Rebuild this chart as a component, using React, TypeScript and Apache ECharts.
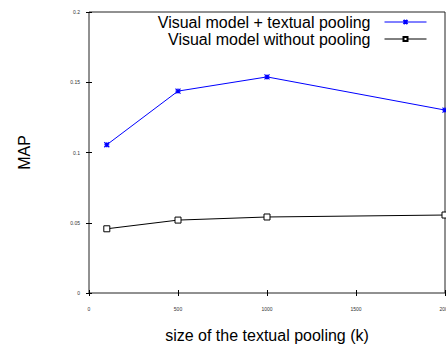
import React, { useEffect, useRef } from "react";
import * as echarts from "echarts";

const xValues = [100, 500, 1000, 2000];
const pooledValues = [0.1055, 0.1437, 0.1538, 0.1302];
const noPoolValues = [0.0457, 0.0519, 0.0541, 0.0555];
const seriesNames = ["Visual model + textual pooling", "Visual model without pooling"];
const xTitle = "size of the textual pooling (k)";
const yTitle = "MAP";

const STAR = "path://M0,0L10,10M10,0L0,10M5,0L5,10M0,5L10,5";

export default function App() {
  const ref = useRef<HTMLDivElement>(null);
  useEffect(() => {
    if (!ref.current) return;
    const chart = echarts.init(ref.current, null, { renderer: "svg" });
    const font = "Liberation Sans, Arial, sans-serif";
    const tick = () => ({ show: true, inside: true, length: 3, lineStyle: { color: "#000" } });
    chart.setOption({
      animation: false,
      backgroundColor: "#fff",
      grid: {
        left: 89,
        top: 12,
        right: 1,
        bottom: 52,
        containLabel: false,
        outerBoundsMode: "none",
        show: true,
        borderColor: "#222",
        borderWidth: 1,
        backgroundColor: "transparent",
      },
      legend: {
        orient: "vertical",
        right: 19,
        top: 14,
        align: "right",
        itemWidth: 42,
        itemHeight: 5,
        itemGap: 1,
        padding: 0,
        lineStyle: { width: 1 },
        textStyle: { fontFamily: font, fontSize: 16, color: "#000", padding: [0, 9, 0, 0] },
        data: seriesNames,
      },
      xAxis: [
        {
          type: "value",
          min: 0,
          max: 2000,
          interval: 500,
          name: xTitle,
          nameLocation: "middle",
          nameGap: 34,
          nameTextStyle: { fontFamily: font, fontSize: 16, color: "#000" },
          axisLine: { show: false },
          axisTick: tick(),
          splitLine: { show: false },
          axisLabel: { fontFamily: font, fontSize: 5, color: "#333", margin: 13, formatter: (v: number) => String(v) },
        },
        {
          type: "value",
          position: "top",
          min: 0,
          max: 2000,
          interval: 500,
          axisLine: { show: false },
          axisTick: tick(),
          splitLine: { show: false },
          axisLabel: { show: false },
        },
      ],
      yAxis: [
        {
          type: "value",
          min: 0,
          max: 0.2,
          interval: 0.05,
          name: yTitle,
          nameLocation: "middle",
          nameGap: 57,
          nameTextStyle: { fontFamily: font, fontSize: 16, color: "#000" },
          axisLine: { show: false },
          axisTick: tick(),
          splitLine: { show: false },
          axisLabel: { fontFamily: font, fontSize: 5, color: "#333", margin: 9, formatter: (v: number) => String(+v.toFixed(2)) },
        },
        {
          type: "value",
          position: "right",
          min: 0,
          max: 0.2,
          interval: 0.05,
          axisLine: { show: false },
          axisTick: tick(),
          splitLine: { show: false },
          axisLabel: { show: false },
        },
      ],
      series: [
        {
          name: seriesNames[0],
          type: "line",
          data: xValues.map((x, i) => [x, pooledValues[i]]),
          symbol: STAR,
          symbolSize: 5,
          lineStyle: { color: "#0000ff", width: 1 },
          itemStyle: { color: "none", borderColor: "#0000ff", borderWidth: 1.2 },
          clip: false,
        },
        {
          name: seriesNames[1],
          type: "line",
          data: xValues.map((x, i) => [x, noPoolValues[i]]),
          symbol: "rect",
          symbolSize: 6,
          lineStyle: { color: "#000", width: 1 },
          itemStyle: { color: "#fff", borderColor: "#000", borderWidth: 1 },
          clip: false,
        },
      ],
    });
    return () => chart.dispose();
  }, []);
  return <div ref={ref} style={{ width: 446, height: 345, position: "absolute", left: 0, top: 0 }} />;
}
